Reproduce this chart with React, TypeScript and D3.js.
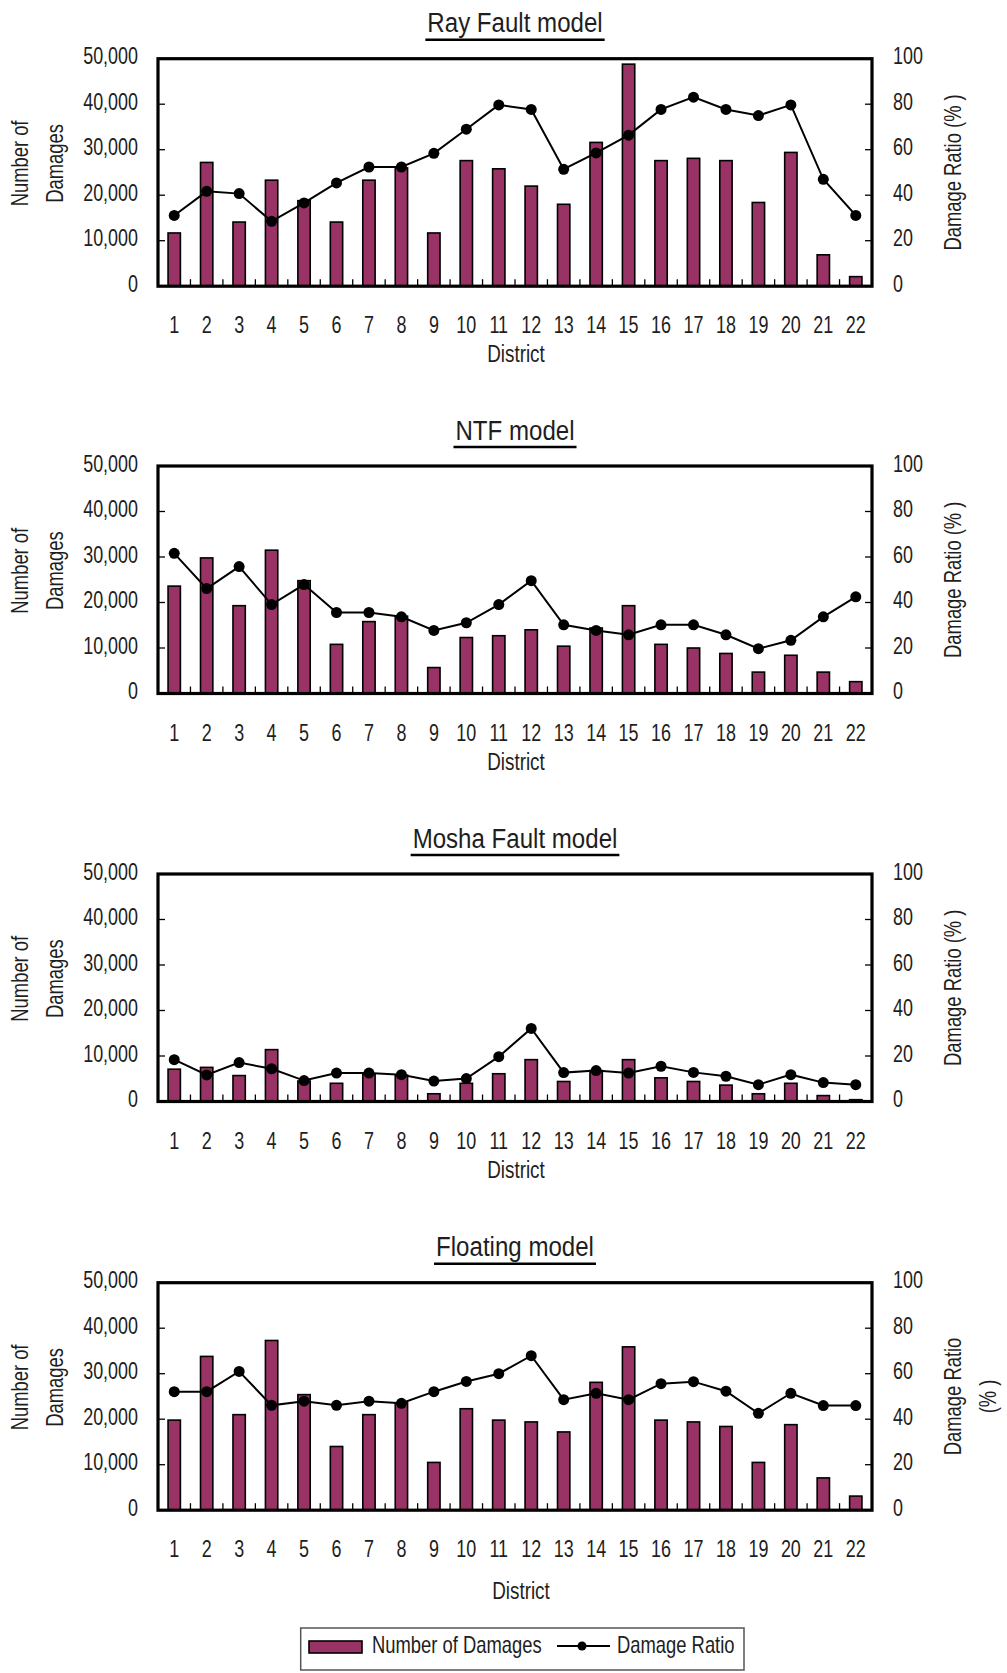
import React, { useEffect, useRef } from 'react';
import * as d3 from 'd3';

// districts along the x axis
const districts = ['1', '2', '3', '4', '5', '6', '7', '8', '9', '10', '11', '12', '13', '14', '15', '16', '17', '18', '19', '20', '21', '22'];

// number of damaged buildings per district
const rayCounts = [11700, 27200, 14100, 23300, 18800, 14100, 23300, 26000, 11700, 27600, 25800, 22000, 18000, 31600, 48800, 27600, 28100, 27600, 18400, 29400, 6900, 2100];
const ntfCounts = [23600, 29800, 19300, 31500, 24800, 10800, 15800, 17000, 5700, 12300, 12700, 14000, 10400, 14400, 19300, 10800, 10000, 8800, 4700, 8400, 4700, 2600];
const moshaCounts = [7100, 7500, 5700, 11400, 4500, 4000, 6000, 5800, 1700, 4000, 6100, 9200, 4400, 6800, 9200, 5200, 4400, 3600, 1700, 4000, 1300, 400];
const floatingCounts = [19800, 33800, 21000, 37300, 25400, 14000, 21000, 23600, 10500, 22300, 19800, 19400, 17200, 28100, 35900, 19800, 19400, 18400, 10500, 18800, 7100, 3100];

// damage ratio (%) per district
const rayRatio = [31.1, 41.7, 40.7, 28.5, 36.6, 45.4, 52.4, 52.4, 58.4, 69.0, 79.7, 77.7, 51.4, 58.6, 66.4, 77.7, 83.1, 77.7, 75.0, 79.7, 47.0, 31.1];
const ntfRatio = [61.6, 46.1, 55.8, 39.1, 47.9, 35.6, 35.6, 33.7, 27.7, 31.1, 39.1, 49.6, 30.2, 27.7, 25.8, 30.2, 30.2, 25.8, 19.7, 23.4, 33.7, 42.5];
const moshaRatio = [18.4, 11.7, 17.1, 14.4, 9.2, 12.5, 12.5, 11.8, 9.0, 10.1, 19.7, 32.1, 12.7, 13.6, 12.5, 15.5, 12.8, 11.1, 7.4, 11.8, 8.3, 7.4];
const floatingRatio = [52.1, 52.1, 61.0, 46.1, 47.9, 46.1, 47.9, 47.0, 52.1, 56.6, 60.0, 67.9, 48.6, 51.4, 48.6, 55.6, 56.5, 52.3, 42.6, 51.4, 46.0, 46.0];

const titles = ['Ray Fault model', 'NTF model', 'Mosha Fault model', 'Floating model'];

const FONT = '"Liberation Sans", Arial, sans-serif';
const BAR = '#993366';
const INK = '#1e1e1e';

type Sel = d3.Selection<any, unknown, null, undefined>;

// narrow text: Liberation Sans squeezed horizontally, like Arial Narrow
function label(parent: Sel, x: number, y: number, s: string, opts: { anchor?: string; size?: number; rotate?: number; squeeze?: number } = {}) {
	const { anchor = 'start', size = 23, rotate = 0, squeeze = 0.8 } = opts;
	const g = parent.append('g').attr('transform', `translate(${x},${y}) rotate(${rotate}) scale(${squeeze},1)`);
	return g.append('text')
		.attr('text-anchor', anchor)
		.attr('font-family', FONT)
		.attr('font-size', size)
		.attr('fill', INK)
		.text(s);
}

export default function App() {
	const ref = useRef<SVGSVGElement>(null);

	useEffect(() => {
		const svg = d3.select(ref.current);
		svg.selectAll('*').remove();

		const panels = [
			{ title: titles[0], counts: rayCounts, ratio: rayRatio, top: 58.7 },
			{ title: titles[1], counts: ntfCounts, ratio: ntfRatio, top: 466 },
			{ title: titles[2], counts: moshaCounts, ratio: moshaRatio, top: 874 },
			{ title: titles[3], counts: floatingCounts, ratio: floatingRatio, top: 1282.7, last: true },
		];

		const L = 158, R = 872, H = 227.5;

		const x = d3.scaleBand().domain(districts).range([L, R]).paddingInner(0.62).paddingOuter(0.31);
		const yL = d3.scaleLinear().domain([0, 50000]).range([H, 0]);
		const yR = d3.scaleLinear().domain([0, 100]).range([H, 0]);
		const cx = (d: string) => (x(d) as number) + x.bandwidth() / 2;
		const fmt = d3.format(',');

		panels.forEach(p => {
			const g = svg.append('g').attr('transform', `translate(0,${p.top})`);

			// bars
			g.append('g').selectAll('rect')
				.data(p.counts)
				.join('rect')
				.attr('x', (d, i) => x(districts[i]) as number)
				.attr('y', d => yL(d))
				.attr('width', x.bandwidth())
				.attr('height', d => H - yL(d))
				.attr('fill', BAR)
				.attr('stroke', '#000')
				.attr('stroke-width', 1.6);

			// frame
			g.append('rect')
				.attr('x', L).attr('y', 0).attr('width', R - L).attr('height', H)
				.attr('fill', 'none').attr('stroke', '#000').attr('stroke-width', 3.2);

			// inner ticks
			const ticks = g.append('g').attr('stroke', '#000').attr('stroke-width', 1.3);
			districts.slice(1).forEach((d, i) => {
				const bx = L + (i + 1) * x.step();
				ticks.append('line').attr('x1', bx).attr('x2', bx).attr('y1', H).attr('y2', H - 7);
			});
			yL.ticks(5).filter(t => t > 0 && t < 50000).forEach(t => {
				ticks.append('line').attr('x1', L).attr('x2', L + 7).attr('y1', yL(t)).attr('y2', yL(t));
			});
			yR.ticks(5).filter(t => t > 0 && t < 100).forEach(t => {
				ticks.append('line').attr('x1', R).attr('x2', R - 7).attr('y1', yR(t)).attr('y2', yR(t));
			});

			// left tick labels
			yL.ticks(5).forEach(t => label(g, 138, yL(t) + 5.5, fmt(t), { anchor: 'end', squeeze: 0.78 }));
			// right tick labels
			yR.ticks(5).forEach(t => label(g, 893, yR(t) + 5.5, String(t), { squeeze: 0.78 }));
			// x tick labels
			districts.forEach(d => label(g, cx(d), H + 47, d, { anchor: 'middle', squeeze: 0.78 }));
			// x title
			label(g, p.last ? 521 : 516, H + (p.last ? 89 : 76), 'District', { anchor: 'middle', squeeze: 0.82 });

			// left y title
			const lyc = H / 2 - 9;
			label(g, 28, lyc, 'Number of', { anchor: 'middle', rotate: -90 });
			label(g, 63, lyc, 'Damages', { anchor: 'middle', rotate: -90 });

			// right y title
			if (p.last) {
				label(g, 961, H / 2, 'Damage Ratio', { anchor: 'middle', rotate: -90 });
				label(g, 996, H / 2, '(% )', { anchor: 'middle', rotate: -90 });
			} else {
				label(g, 961, H / 2, 'Damage Ratio (% )', { anchor: 'middle', rotate: -90 });
			}

			// ratio line
			const line = d3.line<number>()
				.x((d, i) => cx(districts[i]))
				.y(d => yR(d));
			g.append('path')
				.attr('d', line(p.ratio))
				.attr('fill', 'none')
				.attr('stroke', '#000')
				.attr('stroke-width', 2);
			g.append('g').selectAll('circle')
				.data(p.ratio)
				.join('circle')
				.attr('cx', (d, i) => cx(districts[i]))
				.attr('cy', d => yR(d))
				.attr('r', 5.5)
				.attr('fill', '#000');

			// title with underline
			const sq = 0.86;
			const t = label(g, 515, -26.5, p.title, { anchor: 'middle', size: 28, squeeze: sq });
			const w = (t.node() as SVGTextElement).getComputedTextLength() * sq;
			g.append('line')
				.attr('x1', 515 - w / 2 - 2).attr('x2', 515 + w / 2 + 2)
				.attr('y1', -19).attr('y2', -19)
				.attr('stroke', '#000').attr('stroke-width', 2.6);
		});

		// legend
		const lg = svg.append('g');
		lg.append('rect').attr('x', 300.7).attr('y', 1628).attr('width', 443.3).attr('height', 42)
			.attr('fill', '#fff').attr('stroke', '#555').attr('stroke-width', 1.5);
		lg.append('rect').attr('x', 309).attr('y', 1641).attr('width', 53).attr('height', 12)
			.attr('fill', BAR).attr('stroke', '#000').attr('stroke-width', 1.6);
		label(lg, 372, 1653, 'Number of Damages');
		lg.append('line').attr('x1', 557).attr('x2', 610).attr('y1', 1646).attr('y2', 1646).attr('stroke', '#000').attr('stroke-width', 2);
		lg.append('circle').attr('cx', 582).attr('cy', 1646).attr('r', 4.5).attr('fill', '#000');
		label(lg, 617, 1653, 'Damage Ratio');
	}, []);

	return (
		<svg
			ref={ref}
			width={1007}
			height={1673}
			style={{ position: 'absolute', left: 0, top: 0, background: '#fff' }}
		/>
	);
}
